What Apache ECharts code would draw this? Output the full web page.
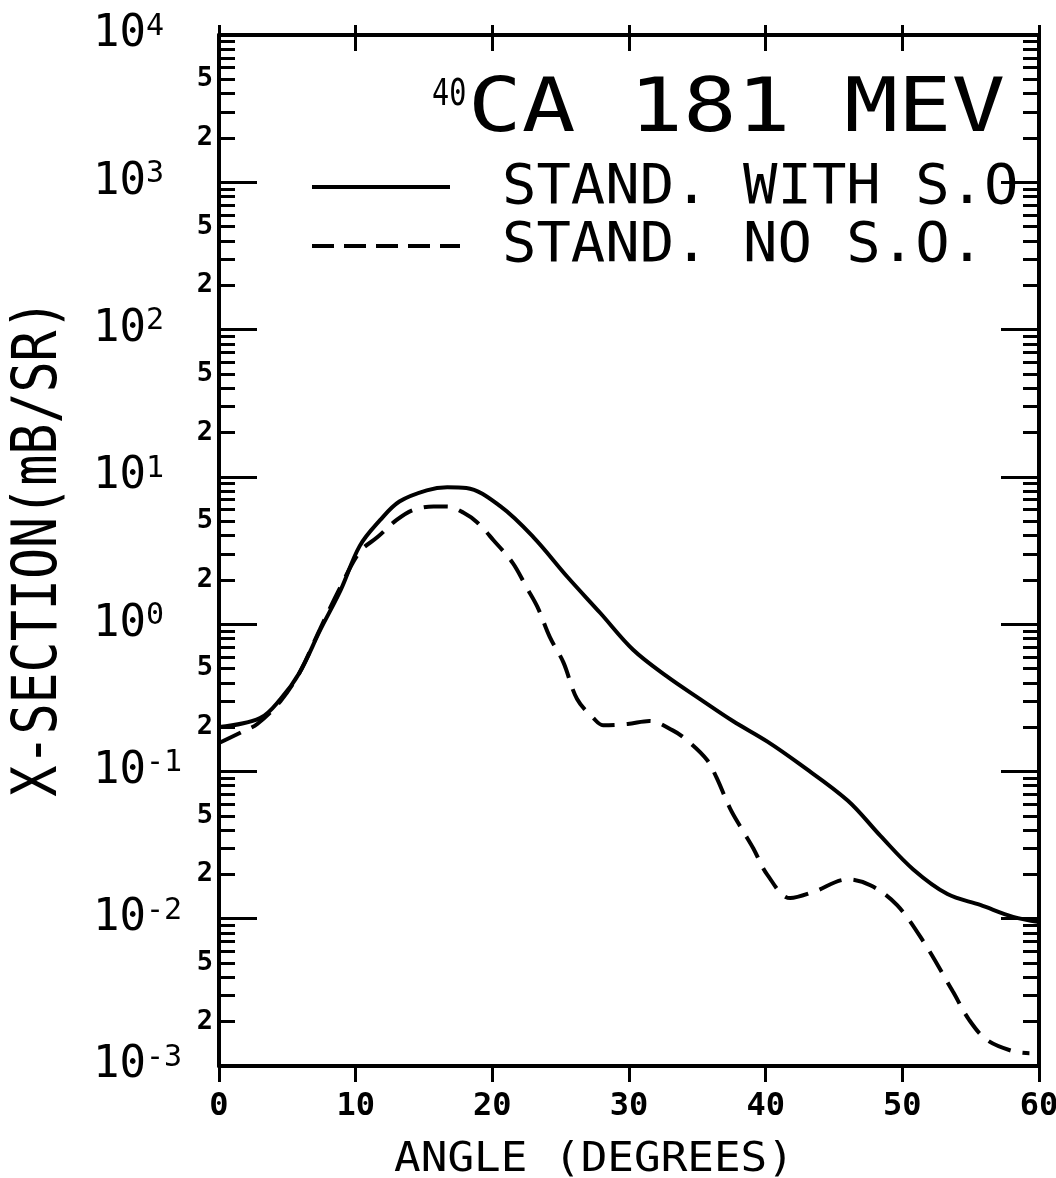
<!DOCTYPE html>
<html>
<head>
<meta charset="utf-8">
<script src="https://cdn.jsdelivr.net/npm/echarts@6/dist/echarts.min.js"></script>
<style>
html,body{margin:0;padding:0;background:#fff;}
#c{width:1056px;height:1178px;}
</style>
</head>
<body>
<div id="c"></div>
<script>
// ---- data ----
const solidX = [0, 3.0, 4.5, 5.9, 7.4, 8.9, 10.3, 11.8, 13.2, 15.2, 16.7, 18.1, 20.6, 23.0, 25.5, 27.9, 30.3, 32.8, 35.2, 37.6, 40.1, 42.5, 46.0, 48.4, 50.8, 53.3, 55.7, 58.1, 60];
const solidY = [0.20, 0.23, 0.31, 0.47, 0.91, 1.7, 3.4, 5.1, 6.8, 8.1, 8.5, 8.4, 6.3, 3.9, 2.09, 1.19, 0.67, 0.44, 0.31, 0.22, 0.16, 0.112, 0.0635, 0.0365, 0.0216, 0.0147, 0.0124, 0.0103, 0.0095];
const dashX = [0, 1.7, 2.8, 4.5, 5.9, 7.4, 8.9, 10.3, 11.6, 13.0, 14.2, 15.7, 16.7, 17.9, 18.9, 20.1, 21.5, 22.5, 23.3, 24.2, 25.2, 26.2, 27.4, 28.1, 29.9, 31.5, 33.2, 34.2, 35.7, 36.4, 37.4, 38.3, 39.1, 40.1, 41.8, 43.5, 46.0, 47.7, 49.6, 51.5, 53.7, 54.9, 56.2, 58.1, 59.3];
const dashY = [0.156, 0.186, 0.21, 0.30, 0.47, 0.93, 1.8, 3.1, 3.9, 5.1, 5.96, 6.3, 6.3, 5.7, 4.9, 3.7, 2.6, 1.78, 1.31, 0.82, 0.55, 0.31, 0.23, 0.206, 0.21, 0.22, 0.19, 0.164, 0.12, 0.091, 0.056, 0.04, 0.03, 0.02, 0.0138, 0.0152, 0.0185, 0.0168, 0.0124, 0.0071, 0.0032, 0.00205, 0.0015, 0.00126, 0.00122];
const xTicks = [0, 10, 20, 30, 40, 50, 60];
const yMajor = [0.001, 0.01, 0.1, 1, 10, 100, 1000, 10000];
const yMinorDigits = [2, 3, 4, 5, 6, 7, 8, 9];
const yMinorLabelDigits = [2, 5];
const titleText = 'CA 181 MEV';
const titleSup = '40';
const legendNames = ['STAND. WITH S.O', 'STAND. NO S.O.'];
const xName = 'ANGLE (DEGREES)';
const yName = 'X-SECTION(mB/SR)';

// ---- derived ----
const yMinor = [], yMinorLab = [];
for (let e = -3; e < 4; e++) {
  const p = Math.pow(10, e);
  yMinorDigits.forEach(d => yMinor.push(+(d * p).toPrecision(6)));
  yMinorLabelDigits.forEach(d => yMinorLab.push(+(d * p).toPrecision(6)));
}
const solidData = solidX.map((x, i) => [x, solidY[i]]);
const dashData = dashX.map((x, i) => [x, dashY[i]]);

const MONO = '"DejaVu Sans Mono", "Liberation Mono", monospace';
const BLACK = '#000';
const G = { left: 219, right: 17, top: 35, bottom: 112, containLabel: false, outerBoundsMode: 'none' };

function logAxis(grid, pos, ticks, len, labels, showLine) {
  return {
    type: 'log', logBase: 10, min: 0.001, max: 10000, position: pos, gridIndex: grid,
    axisLine: { show: showLine, onZero: false, lineStyle: { color: BLACK, width: 4 } },
    axisTick: { show: true, inside: true, length: len, customValues: ticks, lineStyle: { color: BLACK, width: 3 } },
    axisLabel: labels || { show: false },
    splitLine: { show: false }, minorTick: { show: false }, minorSplitLine: { show: false }
  };
}
function linAxis(grid, pos, inside, len, labels, showLine) {
  return {
    type: 'value', min: 0, max: 60, interval: 10, position: pos, gridIndex: grid,
    axisLine: { show: showLine, onZero: false, lineStyle: { color: BLACK, width: 4 } },
    axisTick: { show: len > 0, inside: inside, length: len, customValues: xTicks, lineStyle: { color: BLACK, width: 3 } },
    axisLabel: labels || { show: false },
    splitLine: { show: false }
  };
}

const chart = echarts.init(document.getElementById('c'), null, { renderer: 'canvas' });
chart.setOption({
  backgroundColor: '#fff',
  animation: false,
  grid: [Object.assign({}, G), Object.assign({}, G)],
  xAxis: [
    linAxis(0, 'bottom', false, 16, { color: BLACK, fontFamily: MONO, fontWeight: 'bold', fontSize: 32, margin: 25, customValues: xTicks }, true),
    linAxis(0, 'top', true, 16, null, true),
    linAxis(1, 'top', false, 10, null, false)
  ],
  yAxis: [
    logAxis(0, 'left', yMajor, 38, {
      show: true, customValues: yMajor, align: 'left', margin: 126,
      formatter: v => '{b|10}{s|' + Math.round(Math.log10(v)) + '}',
      rich: {
        b: { fontFamily: MONO, fontSize: 44, color: BLACK, lineHeight: 46, verticalAlign: 'middle' },
        s: { fontFamily: MONO, fontSize: 30, color: BLACK, lineHeight: 46, verticalAlign: 'top' }
      }
    }, true),
    logAxis(0, 'right', yMajor, 38, null, true),
    logAxis(1, 'left', yMinor, 16, {
      show: true, customValues: yMinorLab, margin: 6,
      fontFamily: MONO, fontWeight: 'bold', fontSize: 27, color: BLACK,
      formatter: v => String(Math.round(v / Math.pow(10, Math.floor(Math.log10(v) + 1e-9))))
    }, false),
    logAxis(1, 'right', yMinor, 16, null, false)
  ],
  series: [
    {
      name: legendNames[0], type: 'line', xAxisIndex: 0, yAxisIndex: 0, data: solidData,
      showSymbol: false, symbol: 'none', smooth: 0.35,
      lineStyle: { color: BLACK, width: 4, type: 'solid' }, clip: true
    },
    {
      name: legendNames[1], type: 'line', xAxisIndex: 0, yAxisIndex: 0, data: dashData,
      showSymbol: false, symbol: 'none', smooth: 0.35,
      lineStyle: { color: BLACK, width: 4, type: [24, 12] }, clip: true
    }
  ],
  graphic: [
    { type: 'text', x: 432, y: 95, scaleX: 0.75, style: { text: titleSup, font: '38px ' + MONO, fill: BLACK, align: 'left', verticalAlign: 'middle' } },
    { type: 'text', x: 468, y: 112, scaleX: 1.19, style: { text: titleText, font: '75px ' + MONO, fill: BLACK, align: 'left', verticalAlign: 'middle' } },
    { type: 'line', shape: { x1: 312, y1: 187, x2: 450, y2: 187 }, style: { stroke: BLACK, lineWidth: 4 } },
    { type: 'line', shape: { x1: 312, y1: 246, x2: 460, y2: 246 }, style: { stroke: BLACK, lineWidth: 4, lineDash: [22, 10] } },
    { type: 'text', x: 502, y: 189, scaleX: 1.04, style: { text: legendNames[0], font: '55px ' + MONO, fill: BLACK, align: 'left', verticalAlign: 'middle' } },
    { type: 'text', x: 502, y: 247, scaleX: 1.04, style: { text: legendNames[1], font: '55px ' + MONO, fill: BLACK, align: 'left', verticalAlign: 'middle' } },
    { type: 'text', x: 594, y: 1160, scaleX: 1.08, style: { text: xName, font: '41px ' + MONO, fill: BLACK, align: 'center', verticalAlign: 'middle' } },
    { type: 'text', x: 40, y: 548, rotation: Math.PI / 2, scaleX: 0.82, style: { text: yName, font: '63px ' + MONO, fill: BLACK, align: 'center', verticalAlign: 'middle' } }
  ]
});
</script>
</body>
</html>
